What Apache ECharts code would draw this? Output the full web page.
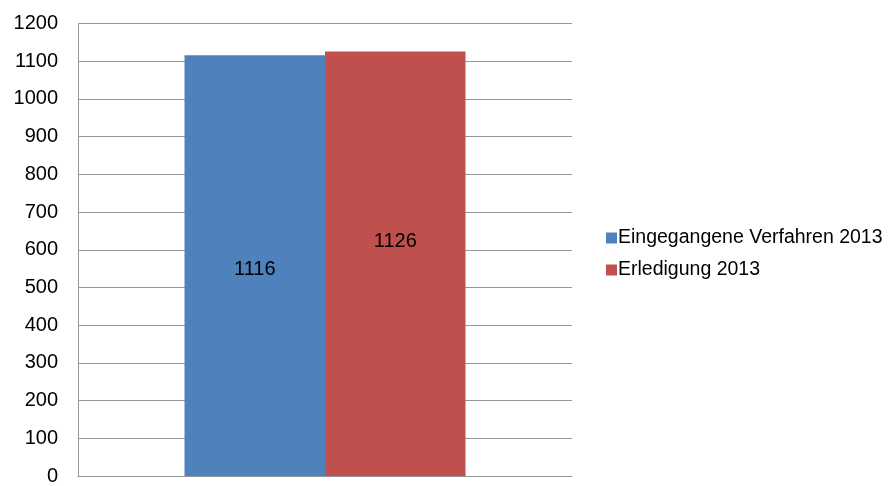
<!DOCTYPE html>
<html>
<head>
<meta charset="utf-8">
<script src="https://cdn.jsdelivr.net/npm/echarts@6/dist/echarts.min.js"></script>
<style>html,body{margin:0;padding:0;background:#fff}#c{width:889px;height:486px}</style>
</head>
<body>
<div id="c"></div>
<script>
const categories = [''];
const seriesNames = ['Eingegangene Verfahren 2013', 'Erledigung 2013'];
const eingegangen = [1116];
const erledigung = [1126];
const yTicks = {min: 0, max: 1200, interval: 100};

const chart = echarts.init(document.getElementById('c'));
const font = '"Liberation Sans", Arial, sans-serif';
chart.setOption({
  animation: false,
  grid: {left: 78, right: 317, top: 23.5, bottom: 7, containLabel: false},
  legend: {
    orient: 'vertical', left: 601, top: 223, itemWidth: 11, itemHeight: 11, itemGap: 12,
    icon: 'rect',
    textStyle: {fontFamily: font, fontSize: 19.5, color: '#000', padding: [0, 0, 0, -4]},
    data: seriesNames
  },
  xAxis: {
    type: 'category', data: categories,
    axisLine: {show: true, lineStyle: {color: '#999'}},
    axisTick: {show: false}, axisLabel: {show: false}
  },
  yAxis: {
    type: 'value', min: yTicks.min, max: yTicks.max, interval: yTicks.interval,
    axisLine: {show: true, lineStyle: {color: '#999'}},
    axisTick: {show: false},
    splitLine: {lineStyle: {color: '#999'}},
    axisLabel: {fontFamily: font, fontSize: 20, color: '#000', margin: 20, formatter: v => String(v)}
  },
  series: [
    {name: seriesNames[0], type: 'bar', data: eingegangen, barWidth: 140.5, barGap: '0%',
     itemStyle: {color: '#4F81BD'},
     label: {show: true, position: 'inside', offset: [0, 4], fontFamily: font, fontSize: 20, color: '#000'}},
    {name: seriesNames[1], type: 'bar', data: erledigung, barWidth: 140.5, barGap: '0%',
     itemStyle: {color: '#C0504D'},
     label: {show: true, position: 'inside', offset: [0, -22], fontFamily: font, fontSize: 20, color: '#000'}}
  ]
});
</script>
</body>
</html>
